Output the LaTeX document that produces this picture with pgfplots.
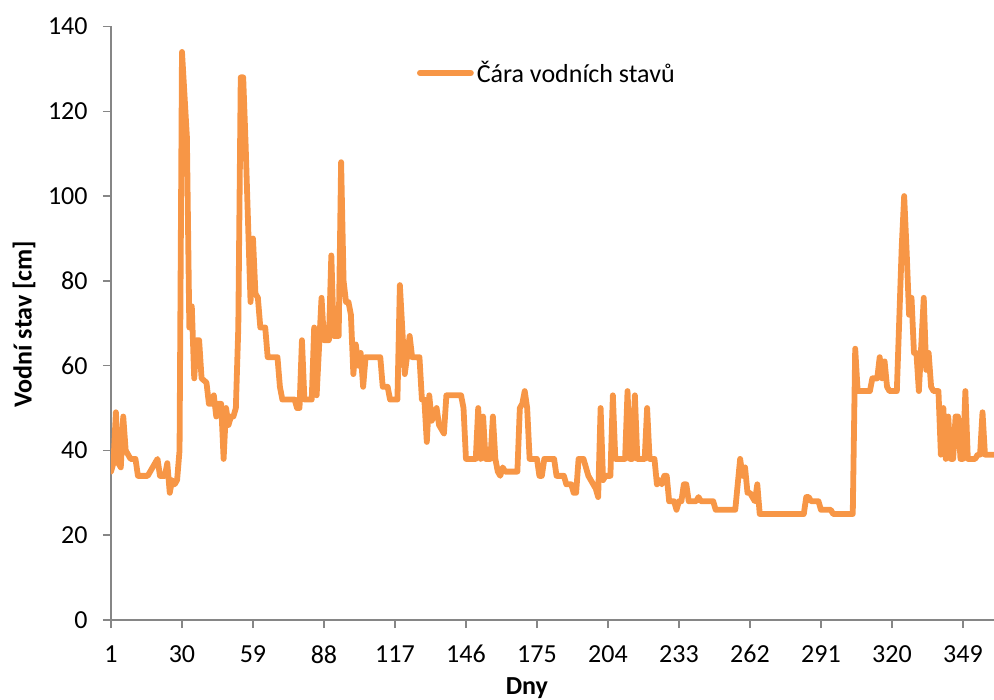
\documentclass[border=0pt]{standalone}
\usepackage{fontspec}
\setmainfont{Carlito}
\usepackage{pgfplots}
\pgfplotsset{compat=1.18}
\definecolor{lineor}{HTML}{F79646}
\definecolor{axgray}{HTML}{868686}
\pgfplotstableread{
day val
1 35
2 37
3 49
4 37
5 36
6 48
7 40
8 39
9 38
11 38
12 34
16 34
18 36
20 38
21 34
23 34
24 37
25 30
26 33
27 32
28 33
29 40
30 134
32 114
33 69
34 74
35 57
36 66
37 66
38 57
40 56
41 51
42 51
43 53
44 48
45 51
46 51
47 38
48 50
49 46
50 48
51 48
52 50
53 69
54 128
55 128
56 112
58 75
59 90
60 77
61 76
62 69
64 69
65 62
69 62
70 55
71 52
76 52
77 50
78 50
79 66
80 52
83 52
84 69
85 53
87 76
88 66
90 66
91 86
92 67
94 67
95 108
96 80
97 75
98 75
99 72
100 58
101 65
102 60
103 63
104 55
105 62
111 62
112 55
114 55
115 52
118 52
119 79
121 58
123 67
124 62
127 62
128 52
129 52
130 42
131 53
132 47
134 50
135 46
137 44
138 53
144 53
145 50
146 38
150 38
151 50
152 38
153 48
154 38
156 38
157 48
158 38
159 35
160 34
161 36
162 35
167 35
168 50
169 51
170 54
171 50
172 38
175 38
176 34
177 34
178 38
182 38
183 34
186 34
187 32
189 32
190 30
191 30
192 38
194 38
196 34
197 33
199 31
200 29
201 50
202 33
203 34
205 34
206 53
207 38
211 38
212 54
213 38
214 38
215 53
216 38
219 38
220 50
221 38
223 38
224 32
225 33
226 32
227 34
228 34
229 28
231 28
232 26
233 28
234 28
235 32
236 32
237 28
240 28
241 29
242 28
247 28
248 26
256 26
258 38
259 34
260 36
261 30
262 30
263 29
264 28
265 32
266 25
284 25
285 29
286 29
287 28
290 28
291 26
295 26
296 25
304 25
305 64
306 54
311 54
312 57
314 57
315 62
316 57
317 61
318 55
319 54
322 54
324 88
325 100
326 87
327 72
328 76
329 63
330 63
331 54
333 76
334 59
335 63
336 55
337 54
339 54
340 39
341 50
342 38
343 48
344 38
345 38
346 48
347 48
348 38
349 38
350 54
351 38
354 38
355 39
356 39
357 49
358 39
362 39
}\levels
\begin{document}
\begin{tikzpicture}
\useasboundingbox (-55.5pt,-40pt) rectangle (441.5pt,310pt);
\begin{axis}[
 at={(0,0)}, anchor=south west,
 scale only axis, width=441.5pt, height=296.75pt,
 xmin=1, xmax=361.7, ymin=0, ymax=140,
 axis x line=bottom, axis y line=left,
 axis line style={-, draw=axgray, line width=0.75pt},
 tick style={draw=axgray, line width=0.75pt},
 tick align=outside, major tick length=4pt,
 xtick={1,30,...,349}, ytick={0,20,...,140},
 minor tick num=0,
 clip=true,
 /pgf/number format/assume math mode=true,
 ticklabel style={font=\fontsize{13}{15}\selectfont, inner sep=0pt, text=black},
 yticklabel style={anchor=east, xshift=-7.5pt},
 xticklabel style={anchor=north, yshift=-8.5pt},
 xlabel={Dny}, ylabel={Vodní stav [cm]},
 label style={font=\fontsize{13}{15}\selectfont\bfseries},
 xlabel style={at={(axis description cs:0.471,-0.1145)}, anchor=center},
 ylabel style={at={(axis description cs:-0.0985,0.4987)}, anchor=center},
 legend style={at={(axis description cs:0.3393,0.9217)}, anchor=west, draw=none, fill=none,
   font=\fontsize{13}{15}\selectfont, nodes={inner sep=1.5pt}},
 legend image code/.code={\draw[#1] (0pt,0pt) -- (25.5pt,0pt);},
]
\addplot[lineor, line width=2.9pt, line join=round, line cap=round] table[x=day, y=val] {\levels};
\addlegendentry{Čára vodních stavů}
\end{axis}
\end{tikzpicture}
\end{document}
